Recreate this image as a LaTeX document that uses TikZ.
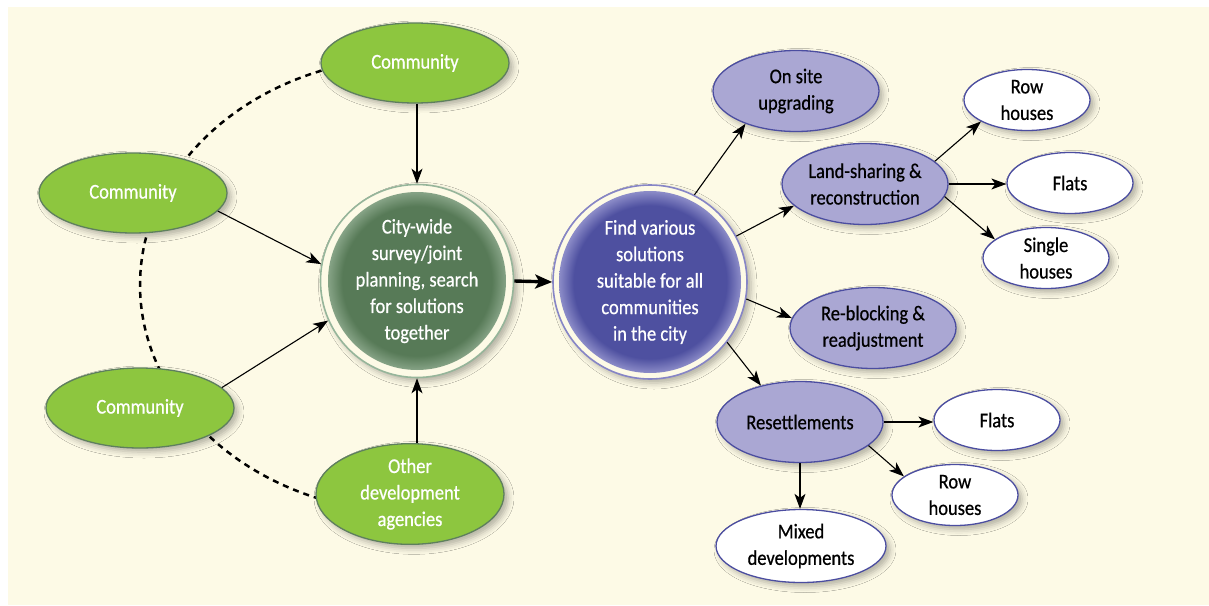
\documentclass[tikz,border=0pt]{standalone}
\usepackage{fontspec}
\setmainfont[FakeStretch=0.88,FakeBold=0.6]{Carlito}
\usetikzlibrary{shapes.geometric,arrows.meta,shadows.blur}
\definecolor{bg}{HTML}{FDFAE6}
\definecolor{gfill}{HTML}{8DC63F}
\definecolor{gline}{HTML}{5E7F5E}
\definecolor{gdark}{HTML}{577A57}
\definecolor{gedge}{HTML}{86A386}
\definecolor{gring}{HTML}{96B59A}
\definecolor{pfill}{HTML}{AAA7D3}
\definecolor{pline}{HTML}{4B4DA0}
\definecolor{bdark}{HTML}{4E50A0}
\definecolor{bedge}{HTML}{8C8CC8}
\definecolor{bring}{HTML}{8685C6}
\pgfdeclareradialshading{gglow}{\pgfpoint{0bp}{0bp}}{color(0bp)=(gdark); color(21bp)=(gdark); color(25bp)=(gedge); color(50bp)=(gedge)}
\pgfdeclareradialshading{bglow}{\pgfpoint{0bp}{0bp}}{color(0bp)=(bdark); color(21bp)=(bdark); color(25bp)=(bedge); color(50bp)=(bedge)}
\tikzset{
  shad/.style={blur shadow={shadow xshift=4pt, shadow yshift=-4pt, shadow blur radius=6pt, shadow opacity=30}},
  txt/.style={font=\fontsize{21}{26.5}\selectfont, align=center, inner sep=0pt},
  greenell/.style={ellipse, txt, fill=gfill, draw=gline, line width=1.3pt, text=white, minimum width=188pt, minimum height=80pt, shad},
  purpell/.style={ellipse, txt, fill=pfill, draw=pline, line width=1.3pt, text=black, minimum width=166pt, minimum height=81pt, shad},
  whiteell/.style={ellipse, txt, fill=white, draw=pline, line width=1.3pt, text=black, minimum width=126pt, minimum height=61pt, shad},
  arr/.style={-{Stealth[length=15pt,width=11pt,inset=4pt]}, line width=1.1pt, black},
  bigarr/.style={-{Stealth[length=17pt,width=14pt,inset=4pt]}, line width=3.4pt, black},
}
\begin{document}
\begin{tikzpicture}[x=1pt,y=-1pt]
\path[use as bounding box] (0,0) rectangle (1209,605);
\fill[bg] (8,7) rectangle (1209,605);
% dashed arc behind the community ellipses
\draw[line width=2.5pt, dash pattern=on 6pt off 5pt] plot[domain=108:252, samples=80, smooth] ({415+275*cos(\x)},{285+228*sin(\x)});
% left group
\node[greenell] (ct) at (415,63) {Community};
\node[greenell] (cl) at (133,193) {Community};
\node[greenell] (cb) at (140,408) {Community};
\node[greenell, minimum height=85pt] (oa) at (410,494) {Other\\development\\agencies};
% green circle
\node[circle, minimum size=193pt, fill=bg, draw=gring, line width=1.6pt, shad] (gc) at (417,281) {};
\node[circle, minimum size=178pt, shading=gglow, txt, text=white] (gci) at (gc.center) {City-wide\\survey/joint\\planning, search\\for solutions\\together};
% blue circle
\node[circle, minimum size=194pt, fill=bg, draw=bring, line width=1.6pt, shad] (bc) at (650,282) {};
\node[circle, minimum size=182pt, shading=bglow, txt, text=white] (bci) at (bc.center) {Find various\\solutions\\suitable for all\\communities\\in the city};
% right group
\node[purpell] (os) at (796,91) {On site\\upgrading};
\node[purpell] (ls) at (865,184) {Land-sharing \&\\reconstruction};
\node[purpell] (rb) at (873,328) {Re-blocking \&\\readjustment};
\node[purpell] (rs) at (800,422) {Resettlements};
\node[whiteell] (rh1) at (1027,100) {Row\\houses};
\node[whiteell] (fl1) at (1070,183) {Flats};
\node[whiteell] (sh) at (1046,258) {Single\\houses};
\node[whiteell] (fl2) at (997,420) {Flats};
\node[whiteell] (rh2) at (955,495) {Row\\houses};
\node[whiteell, minimum width=170pt, minimum height=73pt] (mx) at (801,546) {Mixed\\developments};
% connectors
\draw[arr] (ct.south -| gc.center) -- (gc.north);
\draw[arr] (cl.-12) -- (gc.170);
\draw[arr] (cb.14) -- (gc.204);
\draw[arr] (oa.north -| gc.center) -- (gc.south);
\draw[bigarr] (gc.east) -- (bc.west);
\draw[arr] (bc.63) -- (os.213);
\draw[arr] (bc.28) -- (ls.197);
\draw[arr] (bc.-10) -- (rb.173);
\draw[arr] (bc.-38) -- (rs.137);
\draw[arr] (ls.18) -- (rh1.205);
\draw[arr] (ls.east) -- (ls.east -| fl1.west);
\draw[arr] (ls.-9) -- (sh.160);
\draw[arr] (rs.east) -- (rs.east -| fl2.west);
\draw[arr] (rs.-19) -- (rh2.160);
\draw[arr] (rs.south) -- (rs.south |- mx.north);
\end{tikzpicture}
\end{document}
